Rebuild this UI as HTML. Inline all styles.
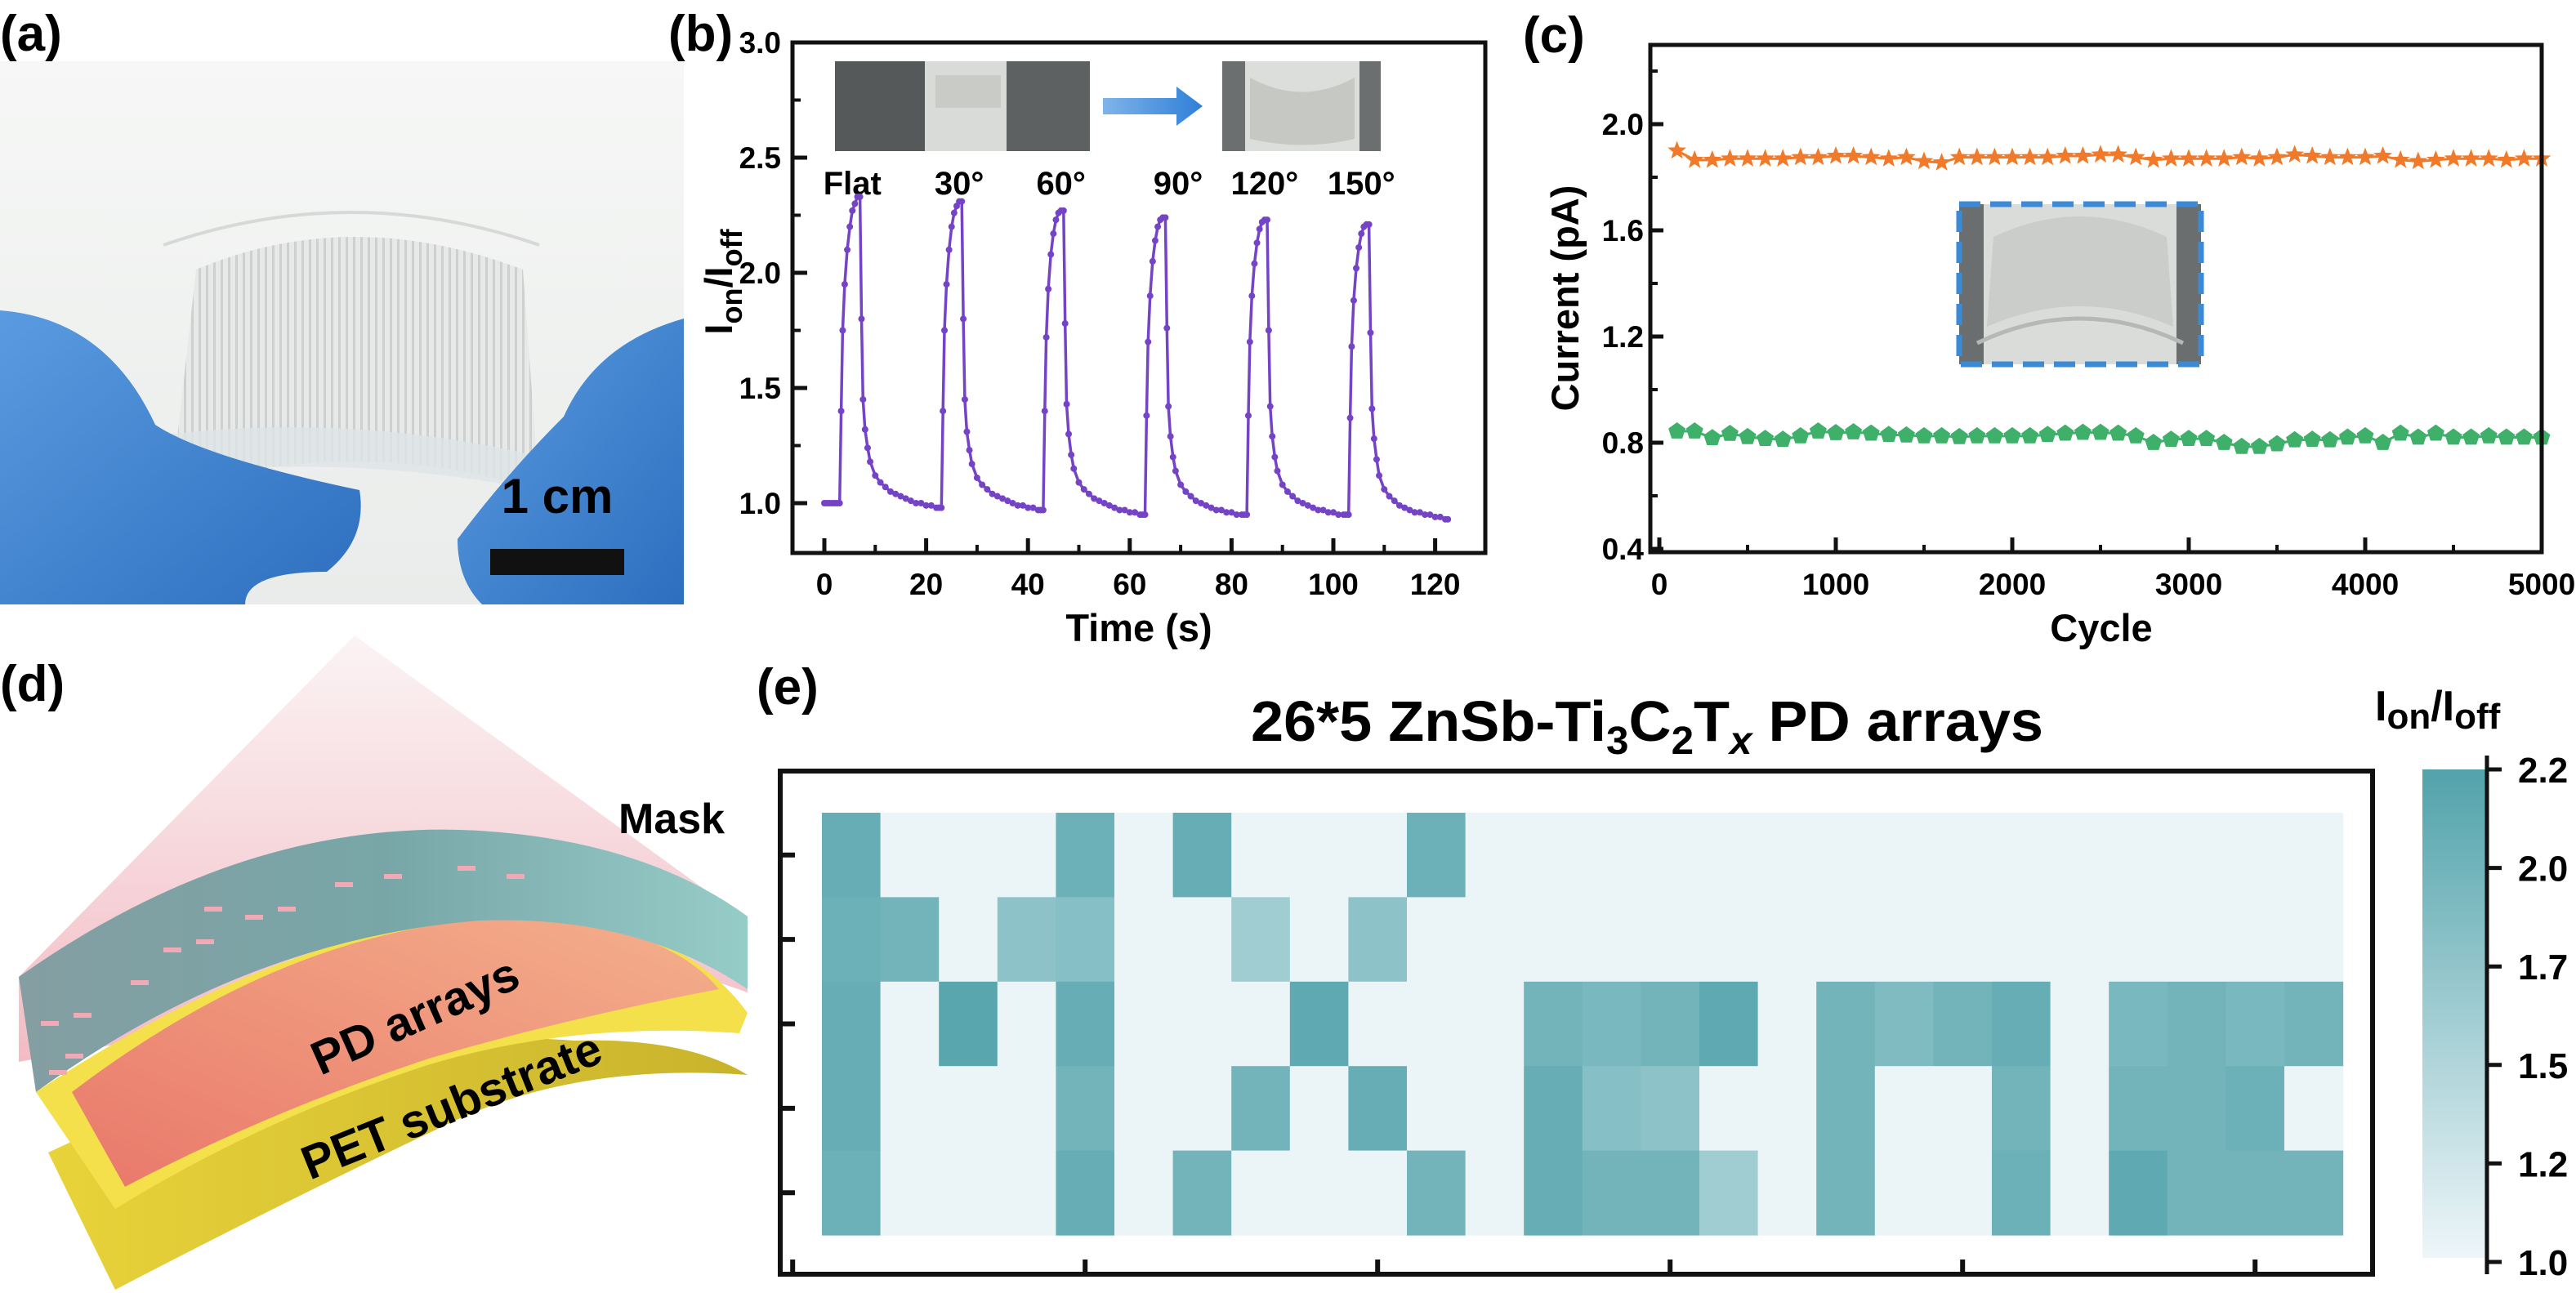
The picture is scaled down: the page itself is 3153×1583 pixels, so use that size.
<!DOCTYPE html>
<html><head><meta charset="utf-8">
<style>
html,body{margin:0;padding:0;background:#fff;}
svg{display:block;font-family:"Liberation Sans",Arial,sans-serif;font-weight:bold;}
</style></head>
<body>
<svg id="fig" width="3153" height="1583" viewBox="0 0 3153 1583" xmlns="http://www.w3.org/2000/svg">
<defs>
  <linearGradient id="bgA" x1="0" y1="0" x2="0" y2="1"><stop offset="0" stop-color="#f6f7f6"/><stop offset="1" stop-color="#e9ecea"/></linearGradient>
  <linearGradient id="glove" x1="0" y1="0" x2="1" y2="1"><stop offset="0" stop-color="#5a9be0"/><stop offset="1" stop-color="#2d6fbf"/></linearGradient>
  <pattern id="stripes" width="9" height="10" patternUnits="userSpaceOnUse"><rect width="9" height="10" fill="#e6e8e7"/><rect width="3" height="10" fill="#c9cccb"/></pattern>
  <linearGradient id="pink" x1="0" y1="0" x2="0" y2="1"><stop offset="0" stop-color="#fbf3f4"/><stop offset="1" stop-color="#f2bcc4"/></linearGradient>
  <linearGradient id="teal" x1="0" y1="0" x2="1" y2="0"><stop offset="0" stop-color="#849ea2"/><stop offset="0.5" stop-color="#78a6a7"/><stop offset="1" stop-color="#96ccc8"/></linearGradient>
  <linearGradient id="orng" x1="0" y1="1" x2="1" y2="0"><stop offset="0" stop-color="#e9786a"/><stop offset="1" stop-color="#f4b08c"/></linearGradient>
  <linearGradient id="yel" x1="0" y1="0" x2="1" y2="0"><stop offset="0" stop-color="#e8d33a"/><stop offset="1" stop-color="#c9b32c"/></linearGradient>
  <linearGradient id="arrowG" x1="0" y1="0" x2="1" y2="0"><stop offset="0" stop-color="#7fb4ea"/><stop offset="1" stop-color="#2f7fd8"/></linearGradient>
  <linearGradient id="cbar" x1="0" y1="1" x2="0" y2="0"><stop offset="0" stop-color="#eef6f9"/><stop offset="1" stop-color="#52a3ab"/></linearGradient>
</defs>

<text x="0" y="62" font-size="62">(a)</text>
<text x="818" y="62" font-size="62">(b)</text>
<text x="1864" y="64" font-size="62">(c)</text>
<text x="0" y="858" font-size="62">(d)</text>
<text x="926" y="862" font-size="62">(e)</text>

<g>
  <rect x="0" y="75" width="837" height="665" fill="url(#bgA)"/>
  <path d="M240,330 Q430,250 640,330 L660,600 Q430,530 210,600 Z" fill="url(#stripes)" opacity="0.9"/>
  <path d="M200,300 Q430,220 660,300" fill="none" stroke="#d6d9d8" stroke-width="4"/>
  <path d="M40,560 Q430,470 800,600 L810,640 Q430,520 30,610 Z" fill="#dfe3e6" opacity="0.8"/>
  <path d="M0,380 Q130,390 190,520 Q250,560 440,600 Q450,660 400,700 Q300,700 300,740 L0,740 Z" fill="url(#glove)"/>
  <path d="M837,390 Q730,420 690,510 Q620,580 560,660 Q560,710 590,740 L837,740 Z" fill="url(#glove)"/>
  <text x="682" y="628" font-size="60" text-anchor="middle">1 cm</text>
  <rect x="600" y="672" width="164" height="32" fill="#111"/>
</g>

<g>
  <path d="M434,778 L915,1127 L915,1215 Q600,1100 300,1250 L23,1300 L23,1196 Z" fill="url(#pink)"/>
  <path d="M59,1411 Q400,1250 704,1274 Q840,1270 915,1316 Q700,1300 540,1380 Q350,1470 141,1579 Z" fill="url(#yel)"/>
  <path d="M44,1337 Q400,1100 704,1120 Q850,1150 915,1240 L905,1265 Q700,1250 520,1305 Q320,1370 141,1480 Z" fill="#f3e04a"/>
  <path d="M88,1337 Q400,1100 704,1127 Q830,1150 880,1211 Q700,1245 528,1295 Q330,1360 153,1453 Z" fill="url(#orng)"/>
  <path d="M23,1196 Q300,1000 587,1017 Q790,1030 915,1122 L915,1211 Q780,1120 587,1127 Q300,1150 44,1337 Z" fill="url(#teal)"/>
  <g fill="#f2a9b6">
    <rect x="50" y="1250" width="22" height="6"/><rect x="90" y="1240" width="22" height="6"/><rect x="160" y="1200" width="22" height="6"/>
    <rect x="200" y="1160" width="22" height="6"/><rect x="240" y="1150" width="22" height="6"/><rect x="300" y="1120" width="22" height="6"/>
    <rect x="340" y="1110" width="22" height="6"/><rect x="250" y="1110" width="22" height="6"/><rect x="410" y="1080" width="22" height="6"/>
    <rect x="470" y="1070" width="22" height="6"/><rect x="560" y="1060" width="22" height="6"/><rect x="620" y="1070" width="22" height="6"/>
    <rect x="80" y="1290" width="22" height="6"/><rect x="60" y="1310" width="22" height="6"/>
  </g>
  <text x="757" y="1020" font-size="52">Mask</text>
  <text transform="translate(516,1262) rotate(-24)" font-size="58" text-anchor="middle">PD arrays</text>
  <text transform="translate(560,1372) rotate(-22)" font-size="58" text-anchor="middle">PET substrate</text>
</g>

<g id="panelB"></g>
<g id="panelC"></g>
<g id="panelE"></g>
</svg>

<script>
// ---------- Panel B data ----------
const bTicksX = [0, 20, 40, 60, 80, 100, 120];
const bTicksY = [1.0, 1.5, 2.0, 2.5, 3.0];
const bPulseStarts = [3, 23, 43, 63, 83, 103];
const bPulseOffsets = [0,0.3,0.6,1,1.5,2,2.5,3,3.5,4,4.3,4.6,5,5.5,6,7,8,9,10,11,12,13,14,15,16,17,18,19,19.5];
const bBaselineT = [0, 0.5, 1, 1.5, 2, 2.5];
const bBaselineV = [1.0, 1.0, 1.0, 1.0, 1.0, 1.0];
const bPulse1 = [1.0,1.4,1.75,1.95,2.1,2.2,2.27,2.3,2.33,2.33,1.8,1.45,1.32,1.24,1.18,1.12,1.09,1.07,1.05,1.04,1.03,1.02,1.01,1.0,1.0,0.99,0.99,0.98,0.98];
const bPulse2 = [0.98,1.4,1.75,1.95,2.1,2.2,2.26,2.29,2.31,2.31,1.8,1.45,1.31,1.23,1.17,1.11,1.08,1.06,1.04,1.03,1.02,1.01,1.0,0.99,0.99,0.98,0.98,0.97,0.97];
const bPulse3 = [0.97,1.4,1.72,1.93,2.08,2.17,2.23,2.26,2.27,2.27,1.78,1.43,1.3,1.21,1.15,1.09,1.06,1.04,1.02,1.01,1.0,0.99,0.98,0.97,0.97,0.96,0.96,0.95,0.95];
const bPulse4 = [0.95,1.38,1.7,1.9,2.05,2.14,2.2,2.23,2.24,2.24,1.76,1.42,1.29,1.2,1.14,1.08,1.05,1.03,1.01,1.0,0.99,0.98,0.97,0.97,0.96,0.96,0.95,0.95,0.95];
const bPulse5 = [0.95,1.38,1.7,1.9,2.04,2.13,2.19,2.22,2.23,2.23,1.75,1.42,1.29,1.2,1.14,1.08,1.05,1.03,1.01,1.0,0.99,0.98,0.97,0.97,0.96,0.96,0.95,0.95,0.95];
const bPulse6 = [0.95,1.37,1.68,1.88,2.02,2.11,2.17,2.2,2.21,2.21,1.74,1.41,1.28,1.19,1.12,1.06,1.03,1.01,0.99,0.98,0.97,0.96,0.96,0.95,0.95,0.94,0.94,0.93,0.93];
const bAngleLabels = ["Flat", "30°", "60°", "90°", "120°", "150°"];
const bLabelTimes = [5.5, 26.5, 46.5, 69.5, 86.5, 105.5];

// ---------- Panel C data ----------
const cTicksX = [0, 1000, 2000, 3000, 4000, 5000];
const cTicksY = [0.4, 0.8, 1.2, 1.6, 2.0];
const cCycles = [100,200,300,400,500,600,700,800,900,1000,1100,1200,1300,1400,1500,1600,1700,1800,1900,2000,2100,2200,2300,2400,2500,2600,2700,2800,2900,3000,3100,3200,3300,3400,3500,3600,3700,3800,3900,4000,4100,4200,4300,4400,4500,4600,4700,4800,4900,5000];
const cOrange = [1.90,1.865,1.865,1.87,1.87,1.87,1.87,1.875,1.875,1.88,1.88,1.875,1.87,1.875,1.86,1.855,1.875,1.875,1.875,1.875,1.875,1.875,1.88,1.88,1.885,1.885,1.875,1.865,1.87,1.87,1.87,1.87,1.875,1.87,1.875,1.885,1.88,1.875,1.875,1.875,1.88,1.865,1.86,1.865,1.87,1.87,1.87,1.865,1.87,1.87];
const cGreen = [0.843,0.843,0.818,0.834,0.822,0.815,0.812,0.825,0.843,0.837,0.84,0.835,0.83,0.828,0.825,0.825,0.822,0.825,0.825,0.825,0.825,0.83,0.835,0.838,0.838,0.835,0.825,0.80,0.812,0.815,0.815,0.80,0.785,0.785,0.795,0.81,0.812,0.81,0.82,0.825,0.80,0.835,0.82,0.835,0.82,0.82,0.825,0.82,0.82,0.82];

// ---------- Panel E data ----------
const eRow1 = [2.05,1.02,1.02,1.02,2.0,1.02,2.05,1.02,1.02,1.02,2.0,1.02,1.02,1.02,1.02,1.02,1.02,1.02,1.02,1.02,1.02,1.02,1.02,1.02,1.02,1.02];
const eRow2 = [2.0,1.95,1.02,1.75,1.8,1.02,1.02,1.6,1.02,1.75,1.02,1.02,1.02,1.02,1.02,1.02,1.02,1.02,1.02,1.02,1.02,1.02,1.02,1.02,1.02,1.02];
const eRow3 = [2.05,1.02,2.15,1.02,2.05,1.02,1.02,1.02,2.1,1.02,1.02,1.02,1.95,1.9,1.95,2.1,1.02,1.95,1.85,1.95,2.05,1.02,1.9,1.95,1.9,1.95];
const eRow4 = [2.05,1.02,1.02,1.02,1.95,1.02,1.02,1.95,1.02,2.05,1.02,1.02,2.05,1.8,1.75,1.02,1.02,1.95,1.02,1.02,1.95,1.02,1.95,1.95,2.0,1.02];
const eRow5 = [2.0,1.02,1.02,1.02,2.05,1.02,1.95,1.02,1.02,1.02,1.95,1.02,2.05,1.95,1.95,1.6,1.02,1.95,1.02,1.02,2.0,1.02,2.1,1.95,1.95,1.95];
const eTicksX = [0, 5, 10, 15, 20, 25];
const eColorTicks = [1.0, 1.2, 1.5, 1.7, 2.0, 2.2];
const eColorTickLabels = ["1.0", "1.2", "1.5", "1.7", "2.0", "2.2"];

const NS = "http://www.w3.org/2000/svg";
function mk(parent, tag, attrs, text) {
  const el = document.createElementNS(NS, tag);
  for (const k in attrs) el.setAttribute(k, attrs[k]);
  if (text !== undefined) el.textContent = text;
  parent.appendChild(el);
  return el;
}

// ===== Panel B =====
(function(){
  const g = document.getElementById('panelB');
  const L=970, R=1818, T=52, B=677;
  const x = t => 1009 + t*6.23;
  const y = v => 616 - (v-1.0)*282;
  const p1 = mk(g,'g',{});
  
  
  mk(p1,'rect',{x:1022,y:75,width:312,height:110,fill:'#d9dbd8'});
  mk(p1,'rect',{x:1022,y:75,width:110,height:110,fill:'#55595a'});
  mk(p1,'rect',{x:1232,y:75,width:102,height:110,fill:'#5d6162'});
  mk(p1,'rect',{x:1145,y:92,width:80,height:40,fill:'#c9cbc6'});
  const ar = mk(g,'path',{d:'M1350,120 L1440,120 L1440,106 L1472,130 L1440,154 L1440,140 L1350,140 Z',fill:'url(#arrowG)'});
  
  
  const p2 = mk(g,'g',{});
  
  
  mk(p2,'rect',{x:1496,y:75,width:194,height:110,fill:'#dcdedb'});
  mk(p2,'rect',{x:1496,y:75,width:28,height:110,fill:'#6b6f70'});
  mk(p2,'rect',{x:1664,y:75,width:26,height:110,fill:'#6b6f70'});
  mk(p2,'path',{d:'M1530,95 Q1593,130 1658,95 L1658,170 Q1593,185 1530,170 Z',fill:'#c6c8c4'});
  bAngleLabels.forEach((s,i)=>{
    const t = mk(g,'text',{x:x(bLabelTimes[i]),y:238,'font-size':40,'text-anchor':'middle'},s);
    
    
  });
  const pulses=[bPulse1,bPulse2,bPulse3,bPulse4,bPulse5,bPulse6];
  const pts=[];
  bBaselineT.forEach((t,i)=>pts.push([x(t),y(bBaselineV[i])]));
  pulses.forEach((arr,pi)=>{ arr.forEach((v,i)=>pts.push([x(bPulseStarts[pi]+bPulseOffsets[i]),y(v)])); });
  const line = mk(g,'polyline',{points:pts.map(p=>p[0].toFixed(1)+','+p[1].toFixed(1)).join(' '),fill:'none',stroke:'#7443c6','stroke-width':3.5});
  
  
  pts.forEach(p=>{
    const c = mk(g,'circle',{cx:p[0],cy:p[1],r:4,fill:'#7443c6'});
    
    
  });
  const fr = mk(g,'rect',{x:L,y:T,width:R-L,height:B-T,fill:'none',stroke:'#111','stroke-width':5});
  
  
  bTicksY.forEach(v=>{
    mk(g,'line',{x1:L,x2:L+18,y1:y(v),y2:y(v),stroke:'#111','stroke-width':5});
    const t = mk(g,'text',{x:L-14,y:y(v)+13,'font-size':37,'text-anchor':'end'},v.toFixed(1));
    
    
  });
  for(let i=0;i<bTicksY.length-1;i++){const v=(bTicksY[i]+bTicksY[i+1])/2; mk(g,'line',{x1:L,x2:L+10,y1:y(v),y2:y(v),stroke:'#111','stroke-width':4});}
  bTicksX.forEach((v,i)=>{
    mk(g,'line',{x1:x(v),x2:x(v),y1:B,y2:B-18,stroke:'#111','stroke-width':5});
    if(i<bTicksX.length-1) mk(g,'line',{x1:x(v+10),x2:x(v+10),y1:B,y2:B-10,stroke:'#111','stroke-width':4});
    const t = mk(g,'text',{x:x(v),y:728,'font-size':37,'text-anchor':'middle'},String(v));
    
    
  });
  const xl = mk(g,'text',{x:1394,y:785,'font-size':47,'text-anchor':'middle'},'Time (s)');
  
  
  const yl = mk(g,'text',{transform:'translate(896,345) rotate(-90)','font-size':47,'text-anchor':'middle'});
  
  
  mk(yl,'tspan',{},'I');
  mk(yl,'tspan',{dy:12,'font-size':36},'on');
  mk(yl,'tspan',{dy:-12},'/I');
  mk(yl,'tspan',{dy:12,'font-size':36},'off');
})();

// ===== Panel C =====
(function(){
  const g = document.getElementById('panelC');
  const L=2020, R=3111, T=55, B=676;
  const x = c => 2031 + c*0.216;
  const y = v => 672 - (v-0.4)*325;
  const ins = mk(g,'g',{});
  
  
  mk(ins,'rect',{x:2398,y:250,width:296,height:196,fill:'#dadcd9'});
  mk(ins,'rect',{x:2398,y:250,width:30,height:196,fill:'#6a6e6f'});
  mk(ins,'rect',{x:2664,y:250,width:30,height:196,fill:'#6a6e6f'});
  mk(ins,'path',{d:'M2440,290 Q2546,240 2652,290 L2660,400 Q2546,350 2432,400 Z',fill:'#cbcdca'});
  mk(ins,'path',{d:'M2420,420 Q2546,360 2672,420',fill:'none',stroke:'#b5b8b6','stroke-width':5});
  mk(ins,'rect',{x:2398,y:250,width:296,height:196,fill:'none',stroke:'#3a8ad6','stroke-width':7,'stroke-dasharray':'26,12'});
  const op = cCycles.map((c,i)=>[x(c),y(cOrange[i])]);
  const ol = mk(g,'polyline',{points:op.map(p=>p.join(',')).join(' '),fill:'none',stroke:'#f07a2a','stroke-width':3});
  
  
  const starPath = (cx,cy,r)=>{let d='';for(let k=0;k<10;k++){const rr=k%2?r*0.42:r;const a=-Math.PI/2+k*Math.PI/5;d+=(k?'L':'M')+(cx+rr*Math.cos(a)).toFixed(1)+','+(cy+rr*Math.sin(a)).toFixed(1);}return d+'Z';};
  op.forEach(p=>{
    const s = mk(g,'path',{d:starPath(p[0],p[1],12),fill:'#f07a2a'});
    
    
  });
  const gp = cCycles.map((c,i)=>[x(c),y(cGreen[i])]);
  const gl = mk(g,'polyline',{points:gp.map(p=>p.join(',')).join(' '),fill:'none',stroke:'#3fb06a','stroke-width':3});
  
  
  const pent = (cx,cy,r)=>{let d='';for(let k=0;k<5;k++){const a=-Math.PI/2+k*2*Math.PI/5;d+=(k?'L':'M')+(cx+r*Math.cos(a)).toFixed(1)+','+(cy+r*Math.sin(a)).toFixed(1);}return d+'Z';};
  gp.forEach(p=>{
    const s = mk(g,'path',{d:pent(p[0],p[1],11),fill:'#3fb06a'});
    
    
  });
  const fr = mk(g,'rect',{x:L,y:T,width:R-L,height:B-T,fill:'none',stroke:'#111','stroke-width':5});
  
  
  cTicksY.forEach(v=>{
    mk(g,'line',{x1:L,x2:L+16,y1:y(v),y2:y(v),stroke:'#111','stroke-width':5});
    mk(g,'line',{x1:L,x2:L+9,y1:y(v+0.2),y2:y(v+0.2),stroke:'#111','stroke-width':4});
    const t = mk(g,'text',{x:L-8,y:y(v)+13,'font-size':37,'text-anchor':'end'},v.toFixed(1));
    
    
  });
  cTicksX.forEach((v,i)=>{
    mk(g,'line',{x1:x(v),x2:x(v),y1:B,y2:B-18,stroke:'#111','stroke-width':5});
    if(i<cTicksX.length-1) mk(g,'line',{x1:x(v+500),x2:x(v+500),y1:B,y2:B-9,stroke:'#111','stroke-width':4});
    const t = mk(g,'text',{x:x(v),y:728,'font-size':37,'text-anchor':'middle'},String(v));
    
    
  });
  const xl = mk(g,'text',{x:2572,y:785,'font-size':47,'text-anchor':'middle'},'Cycle');
  
  
  const yl = mk(g,'text',{transform:'translate(1932,365) rotate(-90)','font-size':47,'text-anchor':'middle'},'Current (pA)');
  
  
})();

// ===== Panel E =====
(function(){
  const g = document.getElementById('panelE');
  const L=955, R=2904, T=944, B=1560;
  const cw=71.6, rh=103.4, x0=1006, y0=995;
  const vmin=1.0, vmax=2.2;
  const lo=[238,246,249], hi=[82,163,171];
  const col = v => { const f=Math.max(0,Math.min(1,(v-vmin)/(vmax-vmin))); return 'rgb('+lo.map((a,i)=>Math.round(a+(hi[i]-a)*f)).join(',')+')'; };
  const rows=[eRow1,eRow2,eRow3,eRow4,eRow5];
  rows.forEach((row,r)=>row.forEach((v,c)=>{
    const rc = mk(g,'rect',{x:(x0+c*cw).toFixed(1),y:(y0+r*rh).toFixed(1),width:(cw+0.6).toFixed(1),height:(rh+0.6).toFixed(1),fill:col(v)});
    
    
  }));
  const fr = mk(g,'rect',{x:L,y:T,width:R-L,height:B-T,fill:'none',stroke:'#111','stroke-width':6});
  
  
  rows.forEach((row,r)=>{ const yy=y0+(r+0.5)*rh; mk(g,'line',{x1:L,x2:L+18,y1:yy,y2:yy,stroke:'#111','stroke-width':6}); });
  eTicksX.forEach(v=>{ const tx=x0+(v-0.5)*cw; mk(g,'line',{x1:tx,x2:tx,y1:B,y2:B-18,stroke:'#111','stroke-width':6}); });
  const ti = mk(g,'text',{x:1531,y:907,'font-size':70,textLength:970,lengthAdjust:'spacingAndGlyphs'});
  
  
  mk(ti,'tspan',{},'26*5 ZnSb-Ti');
  mk(ti,'tspan',{dy:16,'font-size':48},'3');
  mk(ti,'tspan',{dy:-16},'C');
  mk(ti,'tspan',{dy:16,'font-size':48},'2');
  mk(ti,'tspan',{dy:-16},'T');
  mk(ti,'tspan',{dy:16,'font-size':48,'font-style':'italic'},'x');
  mk(ti,'tspan',{dy:-16},' PD arrays');
  const cb = mk(g,'rect',{x:2965,y:942,width:77,height:598,fill:'url(#cbar)'});
  
  
  mk(g,'line',{x1:3044,x2:3044,y1:925,y2:1560,stroke:'#111','stroke-width':5});
  eColorTicks.forEach((v,i)=>{
    const yy = 942 + (eColorTicks.length-1-i)*(1545-942)/(eColorTicks.length-1);
    mk(g,'line',{x1:3044,x2:3062,y1:yy,y2:yy,stroke:'#111','stroke-width':5});
    const t = mk(g,'text',{x:3082,y:yy+16,'font-size':44},eColorTickLabels[i]);
    
    
  });
  const cl = mk(g,'text',{x:2907,y:882,'font-size':52});
  
  
  mk(cl,'tspan',{},'I');
  mk(cl,'tspan',{dy:10,'font-size':44},'on');
  mk(cl,'tspan',{dy:-10},'/I');
  mk(cl,'tspan',{dy:10,'font-size':44},'off');
})();
</script>
</body></html>
